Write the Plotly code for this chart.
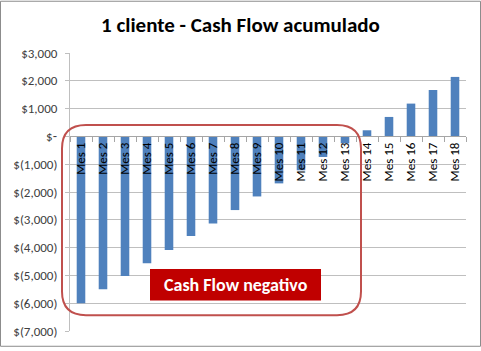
import plotly.graph_objects as go

categories = [f"Mes {i}" for i in range(1, 19)]
cash_flow = [-6000, -5500, -5020, -4560, -4090, -3580, -3130, -2650, -2160,
             -1690, -1220, -740, -250, 220, 700, 1180, 1670, 2140]
y_tickvals = [3000, 2000, 1000, 0, -1000, -2000, -3000, -4000, -5000, -6000, -7000]
y_ticktext = ["$3,000", "$2,000", "$1,000", "$\u2011", "$(1,000)", "$(2,000)", "$(3,000)",
              "$(4,000)", "$(5,000)", "$(6,000)", "$(7,000)"]
title_text = "1 cliente - Cash Flow acumulado"
box_label = "Cash Flow negativo"

W, H = 481, 351
L, R, T, B = 70, 15, 53, 16
PW, PH = W - L - R, H - T - B

def px(x):
    return (x - L) / PW

def py(y):
    return 1 - (y - T) / PH

FONT = "Calibri, Carlito, Lato, 'Liberation Sans', sans-serif"

fig = go.Figure()
fig.add_trace(go.Bar(x=categories, y=cash_flow, marker=dict(color="#4F81BD", line=dict(width=0))))

x0, x1, y0, y1, r = 62, 361, 126, 319, 24
def P(x, y):
    return f"{px(x):.5f},{py(y):.5f}"
path = (f"M {P(x0 + r, y0)} L {P(x1 - r, y0)} Q {P(x1, y0)} {P(x1, y0 + r)} "
        f"L {P(x1, y1 - r)} Q {P(x1, y1)} {P(x1 - r, y1)} "
        f"L {P(x0 + r, y1)} Q {P(x0, y1)} {P(x0, y1 - r)} "
        f"L {P(x0, y0 + r)} Q {P(x0, y0)} {P(x0 + r, y0)} Z")

shapes = [
    dict(type="path", xref="paper", yref="paper", path=path,
         line=dict(color="#C0504D", width=2), layer="above"),
    dict(type="rect", xref="paper", yref="paper",
         x0=px(150), x1=px(321), y0=py(272), y1=py(304),
         fillcolor="#C00000", line=dict(width=0), layer="above"),
    dict(type="rect", xref="paper", yref="paper",
         x0=px(0.5), x1=px(W - 0.5), y0=py(0.5), y1=py(H - 0.5),
         line=dict(color="#8C8C8C", width=1), layer="above"),
]

fig.update_layout(
    width=W, height=H,
    margin=dict(l=L, r=R, t=T, b=B),
    paper_bgcolor="white", plot_bgcolor="white",
    showlegend=False,
    bargap=0.61,
    title=dict(text=f"<b>{title_text}</b>", x=0.5, xanchor="center", y=1 - 25 / H, yanchor="middle",
               font=dict(family=FONT, size=21, color="black")),
    shapes=shapes,
    annotations=[dict(xref="paper", yref="paper", x=px(235.5), y=py(288), xanchor="center",
                      yanchor="middle", text=f"<b>{box_label}</b>",
                      showarrow=False, font=dict(family=FONT, size=18, color="white"))],
    xaxis=dict(type="category", anchor="free", position=0.7, showline=True, linecolor="#A6A6A6",
               linewidth=1, ticks="outside", tickson="boundaries", ticklen=5, tickcolor="#A6A6A6",
               tickangle=-90, showgrid=False, tickfont=dict(family=FONT, size=13, color="black")),
    yaxis=dict(range=[-7000, 3000], tickvals=y_tickvals, ticktext=y_ticktext, showgrid=True,
               gridcolor="#BFBFBF", gridwidth=1, zeroline=False, showline=True, linecolor="#BFBFBF",
               ticks="outside", ticklen=4, tickcolor="#BFBFBF", ticklabelstandoff=5,
               tickfont=dict(family=FONT, size=13, color="#404040")),
)

fig.write_html("out.html")
